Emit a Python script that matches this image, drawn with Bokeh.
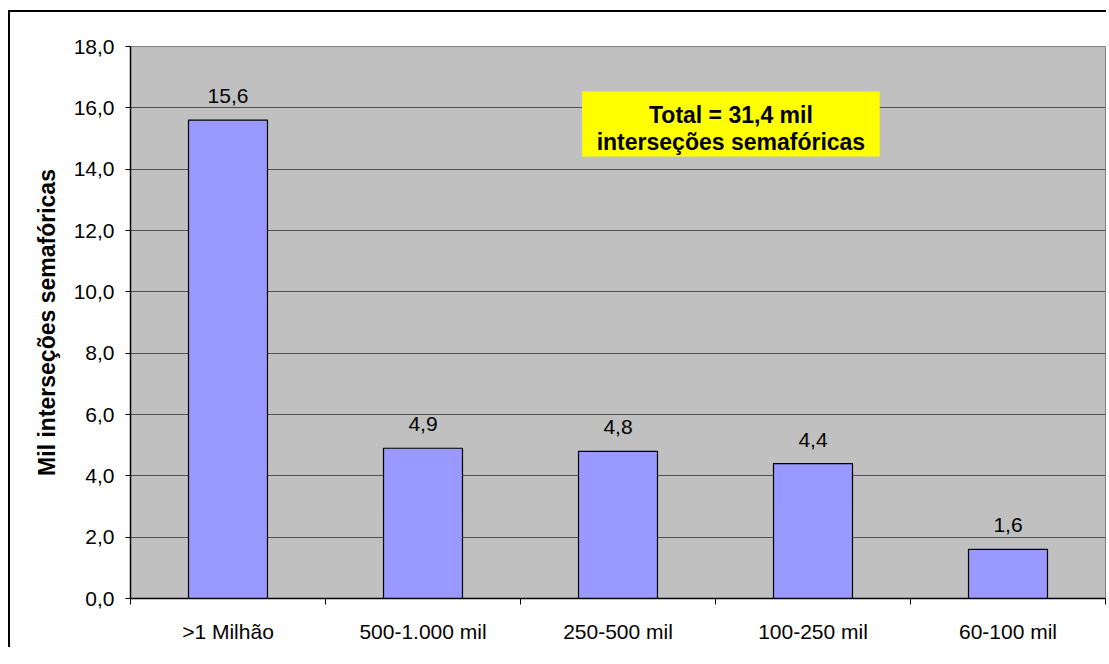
from bokeh.plotting import figure
from bokeh.models import FixedTicker, ColumnDataSource, LabelSet, Label, BoxAnnotation
from bokeh.core.properties import value
from bokeh.embed import file_html
from bokeh.resources import INLINE

# ---- data ----
categories = [">1 Milhão", "500-1.000 mil", "250-500 mil", "100-250 mil", "60-100 mil"]
values = [15.6, 4.9, 4.8, 4.4, 1.6]
value_labels = ["15,6", "4,9", "4,8", "4,4", "1,6"]
y_ticks = [0, 2, 4, 6, 8, 10, 12, 14, 16, 18]
y_tick_labels = ["0,0", "2,0", "4,0", "6,0", "8,0", "10,0", "12,0", "14,0", "16,0", "18,0"]
y_title = "Mil interseções semafóricas"
note_lines = ["Total = 31,4 mil", "interseções semafóricas"]

FONT = "Liberation Sans"

xs = [i + 0.5 for i in range(len(categories))]
src = ColumnDataSource(dict(x=xs, top=values, lab=value_labels))

p = figure(
    frame_width=975, frame_height=552,
    min_border_left=120, min_border_right=1, min_border_top=34, min_border_bottom=49,
    x_range=(0, len(categories)), y_range=(0, 18),
    output_backend="svg", toolbar_location=None,
)
p.styles = {"border-left": "2px solid black", "border-top": "2px solid black",
            "margin-top": "10px", "margin-left": "8px"}
p.background_fill_color = "#C0C0C0"
p.border_fill_color = "white"
p.outline_line_color = "#808080"
p.outline_line_width = 1

p.vbar(x="x", top="top", bottom=0, width=0.405, source=src,
       fill_color="#9999FF", line_color="black", line_width=1.2)

labels = LabelSet(x="x", y="top", text="lab", source=src, y_offset=17,
                  text_align="center", text_baseline="alphabetic",
                  text_font=value(FONT), text_font_size=value("21px"),
                  text_color=value("black"))
p.add_layout(labels)

# x axis: labels at category centres, ticks at category boundaries
p.xaxis.ticker = FixedTicker(ticks=xs, minor_ticks=list(range(len(categories) + 1)))
p.xaxis.major_label_overrides = {x: c for x, c in zip(xs, categories)}
p.xaxis.major_tick_line_color = None
p.xaxis.major_tick_out = 0
p.xaxis.major_tick_in = 0
p.xaxis.minor_tick_line_color = "black"
p.xaxis.minor_tick_out = 6
p.xaxis.minor_tick_in = 0
p.xaxis.major_label_standoff = 15
p.xaxis.major_label_text_font = FONT
p.xaxis.major_label_text_font_size = "21px"
p.xaxis.major_label_text_color = "black"
p.xaxis.axis_line_color = "black"
p.xaxis.axis_line_width = 1.5

# y axis
p.yaxis.ticker = FixedTicker(ticks=y_ticks, minor_ticks=[])
p.yaxis.major_label_overrides = {t: l for t, l in zip(y_ticks, y_tick_labels)}
p.yaxis.major_tick_line_color = "black"
p.yaxis.major_tick_out = 5
p.yaxis.major_tick_in = 0
p.yaxis.major_label_standoff = 11
p.yaxis.major_label_text_font = FONT
p.yaxis.major_label_text_font_size = "21px"
p.yaxis.major_label_text_color = "black"
p.yaxis.axis_line_color = "black"
p.yaxis.axis_line_width = 1.5
p.yaxis.axis_label = y_title
p.yaxis.axis_label_text_font = FONT
p.yaxis.axis_label_text_font_style = "bold"
p.yaxis.axis_label_text_font_size = "23px"
p.yaxis.axis_label_text_color = "black"
p.yaxis.axis_label_standoff = 11

p.xgrid.grid_line_color = None
p.ygrid.grid_line_color = "#505050"
p.ygrid.grid_line_width = 1

# total note box
p.add_layout(BoxAnnotation(left=2.316, right=3.842, bottom=14.41, top=16.53,
                           fill_color="#FFFF00", fill_alpha=1.0, line_color=None))
for ty, txt in zip([15.78, 14.87], note_lines):
    p.add_layout(Label(x=3.079, y=ty, text=txt, text_align="center",
                       text_baseline="alphabetic", text_font=FONT,
                       text_font_style="bold", text_font_size="23px",
                       text_color="black"))

open("out.html", "w").write(file_html(p, INLINE))
